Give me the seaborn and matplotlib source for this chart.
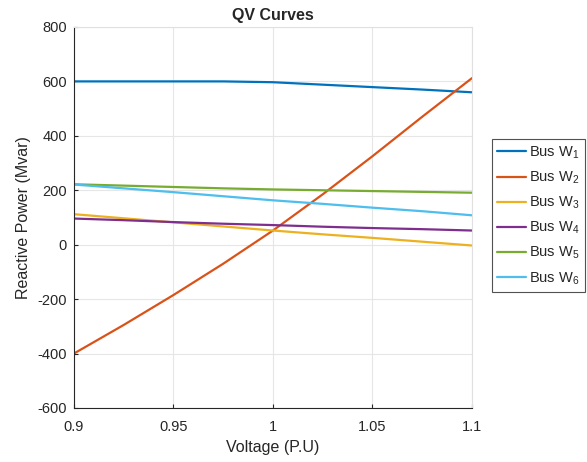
import matplotlib
matplotlib.use("Agg")
import matplotlib.pyplot as plt
import seaborn as sns
import pandas as pd
import numpy as np

voltage = [0.9, 0.925, 0.95, 0.975, 1.0, 1.025, 1.05, 1.075, 1.1]
bus_w1 = [600, 600, 600, 600, 597, 588, 579, 570, 560]
bus_w2 = [-400, -295, -185, -70, 52, 185, 325, 470, 612]
bus_w3 = [112, 97, 82, 67, 52, 38, 25, 11, -3]
bus_w4 = [96, 90, 83, 77, 72, 66, 61, 57, 52]
bus_w5 = [222, 217, 212, 207, 203, 200, 197, 194, 191]
bus_w6 = [221, 207, 193, 178, 163, 150, 136, 123, 108]
labels = ["Bus W$_1$", "Bus W$_2$", "Bus W$_3$", "Bus W$_4$", "Bus W$_5$", "Bus W$_6$"]
colors = ["#0072BD", "#D95319", "#EDB120", "#7E2F8E", "#77AC30", "#4DBEEE"]

series = [bus_w1, bus_w2, bus_w3, bus_w4, bus_w5, bus_w6]
rows = []
for lab, vals in zip(labels, series):
    for v, q in zip(voltage, vals):
        rows.append({"Voltage": v, "Q": q, "Bus": lab})
df = pd.DataFrame(rows)

sns.set_style("white")
plt.rcParams["font.family"] = ["Liberation Sans", "DejaVu Sans"]
plt.rcParams["mathtext.fontset"] = "custom"
plt.rcParams["mathtext.rm"] = "Liberation Sans"
plt.rcParams["mathtext.it"] = "Liberation Sans"
plt.rcParams["mathtext.default"] = "regular"
plt.rcParams["axes.unicode_minus"] = False

fig = plt.figure(figsize=(5.87, 4.62), dpi=100)
ax = fig.add_axes([0.126, 0.117, 0.678, 0.8246])

sns.lineplot(data=df, x="Voltage", y="Q", hue="Bus", palette=colors,
             hue_order=labels, ax=ax, linewidth=1.6, legend=True)

ax.set_xlim(0.9, 1.1)
ax.set_ylim(-600, 800)
ax.set_xticks([0.9, 0.95, 1.0, 1.05, 1.1])
ax.set_xticklabels(["0.9", "0.95", "1", "1.05", "1.1"])
ax.set_yticks(np.arange(-600, 801, 200))
ax.grid(True, color="#e6e6e6", linewidth=0.8)
ax.set_axisbelow(True)
for s in ["top", "right"]:
    ax.spines[s].set_color("#e0e0e0")
    ax.spines[s].set_linewidth(0.8)
for s in ["left", "bottom"]:
    ax.spines[s].set_color("#262626")
    ax.spines[s].set_linewidth(0.8)
ax.tick_params(axis="both", direction="in", length=3, labelsize=10.5,
               colors="#262626", bottom=True, left=True)
ax.tick_params(axis="x", pad=9)
ax.tick_params(axis="y", pad=5)
ax.set_xlabel("Voltage (P.U)", fontsize=11.5, color="#262626", labelpad=4)
ax.set_ylabel("Reactive Power (Mvar)", fontsize=11.5, color="#262626", labelpad=5)
ax.set_title("QV Curves", fontsize=11.5, fontweight="bold", pad=5)

leg = ax.legend(loc="center left", bbox_to_anchor=(1.05, 0.505), fontsize=10.5,
                frameon=True, fancybox=False, edgecolor="#262626",
                handlelength=2.0, handletextpad=0.2, borderpad=0.35,
                borderaxespad=0, labelspacing=0.6)
leg.get_frame().set_linewidth(0.8)

fig.savefig("out.png", dpi=100)
